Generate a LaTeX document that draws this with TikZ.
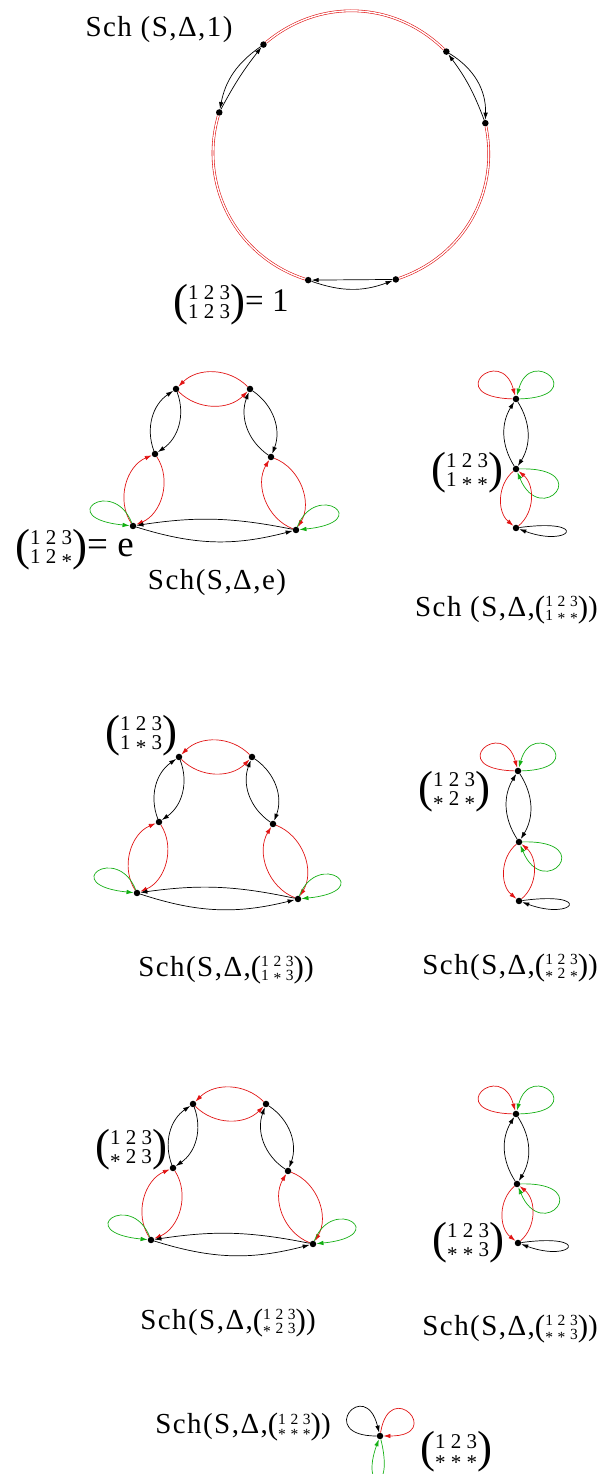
\documentclass[tikz,border=0pt]{standalone}
\usepackage{fontspec}
\usepackage{graphicx}
\setmainfont{Liberation Serif}
\usetikzlibrary{arrows.meta}
\definecolor{rcol}{RGB}{225,20,20}
\definecolor{gcol}{RGB}{20,175,20}
\newcommand\stx{\raisebox{-0.2em}{*}}
% #1 top row, #2 bottom row, #3 digit size, #4 paren size, #5 row stretch
\newcommand\mymat[5]{$\vcenter{\hbox{\fontsize{#4}{#4}\selectfont(}}\vcenter{\hbox{\fontsize{#3}{#3}\selectfont\def\arraystretch{#5}\begin{tabular}{@{}c@{}}#1\\#2\end{tabular}}}\vcenter{\hbox{\fontsize{#4}{#4}\selectfont)}}$}
\newcommand\labmat[2]{\mymat{#1}{#2}{21}{45}{0.8}}
\newcommand\capmat[2]{\mymat{#1}{#2}{15.5}{31}{0.72}}
\tikzset{
  dot/.style={circle, fill=black, inner sep=0pt, minimum size=6.5pt},
  edg/.style={line width=0.7pt, -{Latex[length=7pt,width=4.5pt]}},
  blk/.style={edg, draw=black},
  rd/.style={edg, draw=rcol},
  gr/.style={edg, draw=gcol},
  lbl/.style={font=\fontsize{29}{34}\selectfont, inner sep=0pt},
  captxt/.style={font=\fontsize{29}{34}\selectfont\addfontfeature{LetterSpace=5}, inner sep=0pt},
  reddbl/.style={draw=rcol, double=white, double distance=1.4pt, line width=0.6pt},
}
\newcommand\triedges[1]{%
  \draw[rd] (#1b) to[bend right=45] (#1a);
  \draw[rd] (#1a) to[bend right=45] (#1b);
  \draw[blk] (#1c) to[bend left=38] (#1a);
  \draw[blk] (#1a) to[bend left=38] (#1c);
  \draw[blk] (#1d) to[bend left=38] (#1b);
  \draw[blk] (#1b) to[bend left=38] (#1d);
  \draw[rd] (#1e) to[bend left=50] (#1c);
  \draw[rd] (#1c) to[bend left=50] (#1e);
  \draw[rd] (#1f) to[bend left=50] (#1d);
  \draw[rd] (#1d) to[bend left=50] (#1f);
  \draw[blk] (#1f) to[bend right=10] (#1e);
  \draw[blk] (#1e) to[bend right=16] (#1f);
  \draw[gr] (#1e) .. controls +(-20,50) and +(-80,8) .. (#1e);
  \draw[gr] (#1f) .. controls +(20,50) and +(80,8) .. (#1f);
}
\newcommand\vertedges[1]{%
  \draw[rd] (#1a) .. controls +(-75,2) and +(-15,55) .. (#1a);
  \draw[gr] (#1a) .. controls +(75,2) and +(15,55) .. (#1a);
  \draw[blk] (#1b) to[bend left=32] (#1a);
  \draw[blk] (#1a) to[bend left=32] (#1b);
  \draw[gr] (#1b) .. controls +(80,2) and +(25,-60) .. (#1b);
  \draw[rd] (#1b) to[bend right=50] (#1c);
  \draw[rd] (#1c) to[bend right=50] (#1b);
  \draw[blk] (#1c) .. controls +(75,10) and +(55,-20) .. (#1c);
}
\begin{document}
\begin{tikzpicture}[x=1pt,y=1pt]
\useasboundingbox (0,0) rectangle (599,1474);
% ---------- panel 1: circle ----------
\coordinate (O) at (351,1324);
\node[dot] (cA) at ([shift={(129.7:137)}]O) {};
\node[dot] (cB) at ([shift={(164.1:137)}]O) {};
\node[dot] (cC) at ([shift={(45.9:137)}]O) {};
\node[dot] (cD) at ([shift={(11.3:137)}]O) {};
\node[dot] (cE) at ([shift={(251.8:137)}]O) {};
\node[dot] (cF) at ([shift={(289.1:137)}]O) {};
\draw[reddbl] (cC) to[bend right=42] (cA);
\draw[reddbl] (cD) to[bend left=41] (cF);
\draw[reddbl] (cE) to[bend left=44] (cB);
\draw[blk] (cA) to[bend right=22] (cB);
\draw[blk] (cB) to[bend left=5] (cA);
\draw[blk] (cC) to[bend left=30] (cD);
\draw[blk] (cD) to[bend right=8] (cC);
\draw[blk] (cF) -- (cE);
\draw[blk] (cE) to[bend right=20] (cF);
\node[captxt] (t1) at (159,1444) {Sch (S,Δ,1)};
\node[lbl, anchor=west] (l1) at (173,1169) {\labmat{1 2 3}{1 2 3}{\fontsize{33}{33}\selectfont= 1}};
% ---------- panel 2: e ----------
\node[dot] (ea) at (176,1085) {};
\node[dot] (eb) at (250,1085) {};
\node[dot] (ec) at (155,1020) {};
\node[dot] (ed) at (271,1017) {};
\node[dot] (ee) at (133,948) {};
\node[dot] (ef) at (296,944) {};
\triedges{e}
\node[lbl, anchor=west] (le) at (15,924) {\labmat{1 2 3}{1 2 \stx}{\fontsize{37}{37}\selectfont= e}};
\node[captxt] (ce) at (217,891) {Sch(S,Δ,e)};
% ---------- panel 3: 1** ----------
\node[dot] (pa) at (516,1075) {};
\node[dot] (pb) at (516,1005) {};
\node[dot] (pc) at (516,946) {};
\vertedges{p}
\node[lbl] (lp) at (467,1001) {\labmat{1 2 3}{1 \stx\ \stx}};
\node[captxt, anchor=east] (cp) at (598,864) {Sch (S,Δ,\capmat{1 2 3}{1 \stx\ \stx})};
% ---------- panel 4: 1*3 ----------
\node[dot] (fa) at (179,717) {};
\node[dot] (fb) at (252,717) {};
\node[dot] (fc) at (159,652) {};
\node[dot] (fd) at (273,650) {};
\node[dot] (fe) at (137,581) {};
\node[dot] (ff) at (298,575) {};
\triedges{f}
\node[lbl] (lf) at (141,738) {\labmat{1 2 3}{1 \stx\ 3}};
\node[captxt] (cf) at (226,504) {Sch(S,Δ,\capmat{1 2 3}{1 \stx\ 3})};
% ---------- panel 5: *2* ----------
\node[dot] (qa) at (518,703) {};
\node[dot] (qb) at (519,632) {};
\node[dot] (qc) at (519,573) {};
\vertedges{q}
\node[lbl] (lq) at (454,682) {\labmat{1 2 3}{\stx\ 2 \stx}};
\node[captxt, anchor=east] (cq) at (598,506) {Sch(S,Δ,\capmat{1 2 3}{\stx\ 2 \stx})};
% ---------- panel 6: *23 ----------
\node[dot] (ga) at (193,370) {};
\node[dot] (gb) at (266,370) {};
\node[dot] (gc) at (173,306) {};
\node[dot] (gd) at (288,303) {};
\node[dot] (ge) at (151,234) {};
\node[dot] (gf) at (313,230) {};
\triedges{g}
\node[lbl] (lg) at (131,324) {\labmat{1 2 3}{\stx\ 2 3}};
\node[captxt] (cg) at (228,151) {Sch(S,Δ,\capmat{1 2 3}{\stx\ 2 3})};
% ---------- panel 7: **3 ----------
\node[dot] (ha) at (516,360) {};
\node[dot] (hb) at (517,290) {};
\node[dot] (hc) at (518,231) {};
\vertedges{h}
\node[lbl] (lh) at (468,231) {\labmat{1 2 3}{\stx\ \stx\ 3}};
\node[captxt, anchor=east] (ch) at (598,145) {Sch(S,Δ,\capmat{1 2 3}{\stx\ \stx\ 3})};
% ---------- panel 8: *** ----------
\node[dot] (Q) at (380,38) {};
\draw[blk] (Q) .. controls +(-65,0) and +(-15,60) .. (Q);
\draw[rd] (Q) .. controls +(10,60) and +(65,0) .. (Q);
\draw[gr] (Q) .. controls +(15,-60) and +(-20,-55) .. (Q);
\node[captxt] (cQ) at (243,47) {Sch(S,Δ,\capmat{1 2 3}{\stx\ \stx\ \stx})};
\node[lbl] (lQ) at (456,22) {\labmat{1 2 3}{\stx\ \stx\ \stx}};
\end{tikzpicture}
\end{document}
